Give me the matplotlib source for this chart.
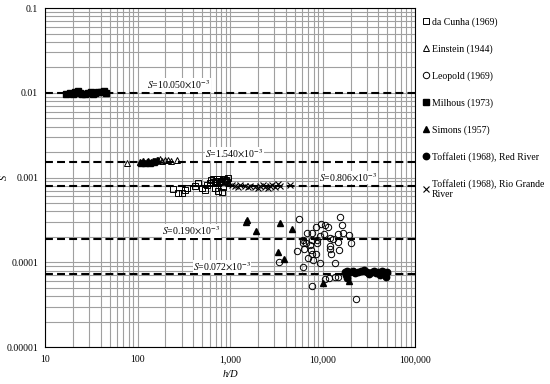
import matplotlib
matplotlib.use("Agg")
import matplotlib.pyplot as plt
from matplotlib.ticker import LogLocator, FixedFormatter, FixedLocator, NullFormatter

plt.rcParams['font.family'] = ['Liberation Serif', 'DejaVu Serif']
plt.rcParams['mathtext.fontset'] = 'stix'

# da Cunha (1969) - open squares
cunha_hd = [242, 274, 303, 326, 343, 418, 451, 498, 537, 564, 608, 655, 689, 723, 741,
            820, 840, 929, 620, 650, 700, 760, 800, 850, 900, 950, 680, 780, 880, 720]
cunha_s = [0.000732, 0.000656, 0.000656, 0.000712, 0.000752, 0.000794, 0.000861, 0.000752,
           0.000712, 0.000816, 0.000861, 0.000885, 0.000752, 0.000861, 0.000693,
           0.000674, 0.000773, 0.000885, 0.00093, 0.00095, 0.00090, 0.00097, 0.00092,
           0.00096, 0.00094, 0.00098, 0.00086, 0.00089, 0.00091, 0.00095]

# Einstein (1944) - open triangles
einstein_hd = [77, 150, 165, 175, 185, 200, 215, 230, 265]
einstein_s = [0.00148, 0.00158, 0.00162, 0.00165, 0.00158, 0.00160, 0.00163, 0.00157, 0.00160]

# Leopold (1969) - open circles
leopold_hd = [5570, 15460, 16250, 9640, 10640, 11460, 8510, 6800, 7700, 10380, 9400, 14720,
              16660, 19330, 12040, 12990, 6150, 6630, 7700, 8720, 6150, 7320, 8720, 12040,
              14720, 20320, 5300, 6310, 7510, 12040, 15080, 7700, 12350, 8510, 6970, 7890,
              9400, 13650, 3390, 6150, 11750, 13650, 14720, 10640, 7700, 23010]
leopold_s = [0.000324, 0.000342, 0.000275, 0.000282, 0.000275, 0.000261, 0.000261, 0.000221,
             0.000221, 0.000215, 0.000204, 0.000215, 0.000221, 0.000210, 0.000193, 0.000188,
             0.000183, 0.000169, 0.000183, 0.000183, 0.000169, 0.000160, 0.000169, 0.000156,
             0.000173, 0.000169, 0.000136, 0.000143, 0.000140, 0.000143, 0.000140, 0.000125,
             0.000125, 0.000125, 0.000112, 0.000106, 0.0000980, 0.0000980, 0.000101,
             0.0000879, 0.0000652, 0.0000670, 0.0000670, 0.0000634, 0.0000525, 0.0000368]

# Milhous (1973) - filled squares
milhous_hd = [17, 18.5, 20, 21, 22.5, 24, 25, 27, 29, 31, 33, 35, 37, 40, 43, 46]
milhous_s = [0.0098, 0.0100, 0.0097, 0.0103, 0.0106, 0.0099, 0.0097, 0.0098, 0.0100,
             0.0102, 0.0097, 0.0099, 0.0103, 0.0101, 0.0104, 0.0100]

# Simons (1957) - filled triangles
simons_hd = [105, 110, 115, 120, 125, 130, 135, 140, 145, 150, 155, 160,
             1528, 1489, 1910, 3475, 4680, 3300, 3840, 10120, 19300]
simons_s = [0.00152, 0.00150, 0.00155, 0.00149, 0.00153, 0.00156, 0.00150, 0.00154,
            0.00158, 0.00152, 0.00155, 0.00160,
            0.000315, 0.000299, 0.000234, 0.000290, 0.000247, 0.000132, 0.000109,
            0.0000569, 0.0000601]

# Toffaleti (1968), Red River - filled circles
red_hd = [17500, 17800, 18200, 18500, 19500, 21000, 22500, 24000, 26000, 28000, 30000,
          32000, 34000, 36000, 38000, 40000, 42000, 44000, 46000, 48000, 50000]
red_s = [0.0000767, 0.0000700, 0.0000650, 0.0000790, 0.0000760, 0.0000800, 0.0000740,
         0.0000770, 0.0000790, 0.0000820, 0.0000760, 0.0000730, 0.0000780, 0.0000800,
         0.0000740, 0.0000770, 0.0000700, 0.0000790, 0.0000760, 0.0000680, 0.0000770]

# Toffaleti (1968), Rio Grande River - crosses
rio_hd = [950, 1050, 1130, 1200, 1280, 1450, 1550, 1640, 1860, 2000, 2110, 2250, 2390,
          2550, 2710, 2850, 3070, 3250, 3470, 4450]
rio_s = [0.00086, 0.00082, 0.00080, 0.00078, 0.00081, 0.00079, 0.00077, 0.00080,
         0.00078, 0.00076, 0.00079, 0.00081, 0.00077, 0.00075, 0.00080, 0.00082,
         0.00078, 0.00085, 0.00079, 0.00081]

# reference slopes
ref_s = [10.050e-3, 1.540e-3, 0.806e-3, 0.190e-3, 0.072e-3]
ref_txt = ["10.050", "1.540", "0.806", "0.190", "0.072"]
ref_x = [127, 537, 9160, 184, 398]

fig = plt.figure(figsize=(5.5, 3.84), dpi=100)
ax = fig.add_axes([0.082, 0.096, 0.673, 0.883])

ax.set_xscale('log')
ax.set_yscale('log')
ax.set_xlim(10, 100000)
ax.set_ylim(0.00001, 0.1)

ax.grid(True, which='both', color='#a0a0a0', lw=0.8)
ax.set_axisbelow(True)

for s, t, x in zip(ref_s, ref_txt, ref_x):
    ax.axhline(s, color='black', lw=1.5, linestyle=(0, (3.8, 2.0)), zorder=2)
    ax.text(x, s * 1.04, r'$S$=' + t + r'$\times$10$^{-3}$', fontsize=7, va='bottom',
            ha='left', zorder=3,
            bbox=dict(facecolor='white', edgecolor='none', pad=0.3))

ms = 4.2
ax.plot(cunha_hd, cunha_s, 's', mfc='none', mec='black', mew=0.7, ms=ms, label='da Cunha (1969)', zorder=4)
ax.plot(einstein_hd, einstein_s, '^', mfc='none', mec='black', mew=0.7, ms=ms, label='Einstein (1944)', zorder=4)
ax.plot(leopold_hd, leopold_s, 'o', mfc='none', mec='black', mew=0.7, ms=ms + 0.4, label='Leopold (1969)', zorder=4)
ax.plot(milhous_hd, milhous_s, 's', color='black', ms=ms, label='Milhous (1973)', zorder=4)
ax.plot(simons_hd, simons_s, '^', color='black', ms=ms, label='Simons (1957)', zorder=4)
ax.plot(red_hd, red_s, 'o', color='black', ms=ms + 0.4, label='Toffaleti (1968), Red River', zorder=4)
ax.plot(rio_hd, rio_s, 'x', color='black', mew=0.8, ms=ms, label='Toffaleti (1968), Rio Grande\nRiver', zorder=4)

ax.xaxis.set_major_locator(FixedLocator([10, 100, 1000, 10000, 100000]))
ax.xaxis.set_major_formatter(FixedFormatter(['10', '100', '1,000', '10,000', '100,000']))
ax.xaxis.set_minor_locator(LogLocator(base=10, subs=range(2, 10)))
ax.xaxis.set_minor_formatter(NullFormatter())
ax.yaxis.set_major_locator(FixedLocator([0.00001, 0.0001, 0.001, 0.01, 0.1]))
ax.yaxis.set_major_formatter(FixedFormatter(['0.00001', '0.0001', '0.001', '0.01', '0.1']))
ax.yaxis.set_minor_locator(LogLocator(base=10, subs=range(2, 10)))
ax.yaxis.set_minor_formatter(NullFormatter())
ax.tick_params(which='both', length=0, labelsize=7)
ax.tick_params(axis='x', pad=6)
ax.tick_params(axis='y', pad=5)

for sp in ax.spines.values():
    sp.set_color('black')
    sp.set_linewidth(0.8)

ax.set_xlabel('h/D', fontsize=7.5, style='italic', labelpad=4)
ax.set_ylabel('S', fontsize=7.5, style='italic')
ax.yaxis.set_label_coords(-0.097, 0.5)

fig.legend(loc='upper left', bbox_to_anchor=(0.768, 0.955), frameon=False, fontsize=7,
           handlelength=0.7, handletextpad=0.3, labelspacing=1.78, borderaxespad=0,
           borderpad=0)

fig.savefig('out.png', dpi=100)
